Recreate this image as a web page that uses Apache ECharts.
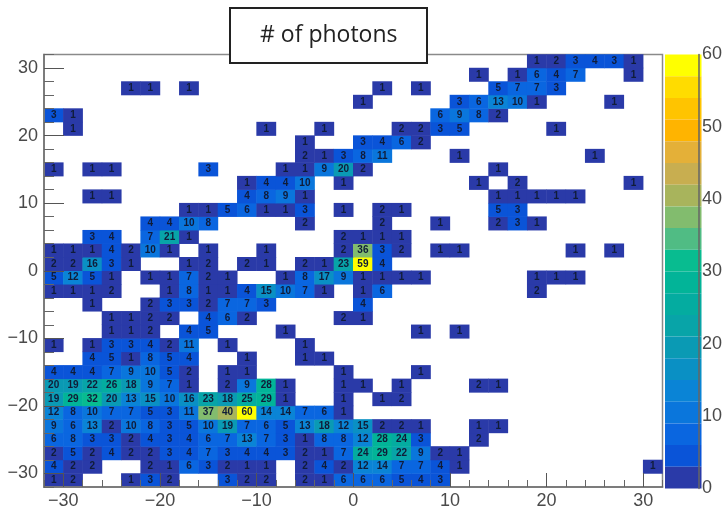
<!DOCTYPE html>
<html>
<head>
<meta charset="utf-8">
<style>html,body{margin:0;padding:0;background:#fff}#c{width:725px;height:510px}</style>
<script src="https://cdn.jsdelivr.net/npm/echarts@6/dist/echarts.min.js"></script>
</head>
<body>
<div id="c"></div>
<script>
const titleText = '# of photons';
const xBins = [-31,-29,-27,-25,-23,-21,-19,-17,-15,-13,-11,-9,-7,-5,-3,-1,1,3,5,7,9,11,13,15,17,19,21,23,25,27,29,31];
const axisLabelTicks = [-30,-20,-10,0,10,20,30];
const minorTicks = [-32,-28,-26,-24,-22,-18,-16,-14,-12,-8,-6,-4,-2,2,4,6,8,12,14,16,18,22,24,26,28,32];
// one colour per 3-count band, from 0-3 up to 57-60
const bandColors = ['#2a3aa8','#0a54d8','#0a66e0','#0a76dc','#0a84d6','#0a90c4','#0a9ab4','#08a4a8','#04aca0','#02b498','#08bc90','#50bc84','#82bc6e','#a8b45c','#c8ae50','#e4b038','#ffb400','#ffc400','#ffdc00','#ffff00'];
// rows of photon counts, named by bin centre in y; column order follows xBins; 0 = empty
const y31  = [0,0,0,0,0,0,0,0,0,0,0,0,0,0,0,0,0,0,0,0,0,0,0,0,0,1,2,3,4,3,1,0];
const y29  = [0,0,0,0,0,0,0,0,0,0,0,0,0,0,0,0,0,0,0,0,0,0,1,0,1,6,4,7,0,0,1,0];
const y27  = [0,0,0,0,1,1,0,1,0,0,0,0,0,0,0,0,0,1,0,1,0,0,0,5,7,7,3,0,0,0,0,0];
const y25  = [0,0,0,0,0,0,0,0,0,0,0,0,0,0,0,0,1,0,0,0,0,3,6,13,10,1,0,0,0,1,0,0];
const y23  = [3,1,0,0,0,0,0,0,0,0,0,0,0,0,0,0,0,0,0,0,6,9,8,2,0,0,0,0,0,0,0,0];
const y21  = [0,1,0,0,0,0,0,0,0,0,0,1,0,0,1,0,0,0,2,2,3,5,0,0,0,0,1,0,0,0,0,0];
const y19  = [0,0,0,0,0,0,0,0,0,0,0,0,0,1,0,0,3,4,6,2,0,0,0,0,0,0,0,0,0,0,0,0];
const y17  = [0,0,0,0,0,0,0,0,0,0,0,0,0,2,1,3,8,11,0,0,0,1,0,0,0,0,0,0,1,0,0,0];
const y15  = [1,0,1,1,0,0,0,0,3,0,0,0,1,1,9,20,2,0,0,0,0,0,0,1,0,0,0,0,0,0,0,0];
const y13  = [0,0,0,0,0,0,0,0,0,0,1,4,4,10,0,1,0,0,0,0,0,0,1,0,2,0,0,0,0,0,1,0];
const y11  = [0,0,1,1,0,0,0,0,0,0,4,8,9,1,0,0,0,0,0,0,0,0,0,1,1,1,1,1,0,0,0,0];
const y9   = [0,0,0,0,0,0,0,1,1,5,6,1,1,3,0,1,0,2,1,0,0,0,0,5,3,0,0,0,0,0,0,0];
const y7   = [0,0,0,0,0,4,4,10,8,0,0,0,0,2,0,0,0,2,0,0,1,0,0,2,3,1,0,0,0,0,0,0];
const y5   = [0,0,3,4,0,7,21,1,0,0,0,0,0,0,0,2,1,1,1,0,0,0,0,0,0,0,0,0,0,0,0,0];
const y3   = [1,1,1,4,2,10,1,0,1,0,0,1,0,0,0,2,36,3,2,0,1,1,0,0,0,0,0,1,0,1,0,0];
const y1   = [2,2,16,3,1,0,0,1,2,0,2,1,0,2,1,23,59,4,0,0,0,0,0,0,0,0,0,0,0,0,0,0];
const ym1  = [5,12,5,1,0,1,1,7,2,1,0,0,1,8,17,9,1,1,1,1,0,0,0,0,0,1,1,1,0,0,0,0];
const ym3  = [1,1,1,2,0,0,1,8,1,1,4,15,10,7,1,0,1,6,0,0,0,0,0,0,0,2,0,0,0,0,0,0];
const ym5  = [0,0,1,0,0,2,3,3,2,7,7,3,0,0,0,0,4,0,0,0,0,0,0,0,0,0,0,0,0,0,0,0];
const ym7  = [0,0,0,1,1,2,2,0,4,6,2,0,0,0,0,2,1,0,0,0,0,0,0,0,0,0,0,0,0,0,0,0];
const ym9  = [0,0,0,1,1,2,0,4,5,0,0,0,1,0,0,0,0,0,0,1,0,1,0,0,0,0,0,0,0,0,0,0];
const ym11 = [1,0,1,3,3,4,2,11,0,1,0,0,0,1,0,0,0,0,0,0,0,0,0,0,0,0,0,0,0,0,0,0];
const ym13 = [0,0,4,5,1,8,5,4,0,0,1,0,0,1,1,0,0,0,0,0,0,0,0,0,0,0,0,0,0,0,0,0];
const ym15 = [4,4,4,7,9,10,5,2,0,1,1,0,0,0,0,1,0,0,0,1,0,0,0,0,0,0,0,0,0,0,0,0];
const ym17 = [20,19,22,26,18,9,7,1,0,2,9,28,1,0,0,1,1,0,1,0,0,0,2,1,0,0,0,0,0,0,0,0];
const ym19 = [19,29,32,20,13,15,10,16,23,18,25,29,1,0,0,1,0,1,2,0,0,0,0,0,0,0,0,0,0,0,0,0];
const ym21 = [12,8,10,7,7,5,3,11,37,40,60,14,14,7,6,1,0,0,0,0,0,0,0,0,0,0,0,0,0,0,0,0];
const ym23 = [9,6,13,2,10,8,3,5,10,19,7,6,5,13,18,12,15,2,2,1,0,0,1,1,0,0,0,0,0,0,0,0];
const ym25 = [6,8,3,3,2,4,3,4,6,7,13,7,3,1,8,8,12,28,24,3,0,0,2,0,0,0,0,0,0,0,0,0];
const ym27 = [2,5,2,4,2,2,3,4,7,3,4,4,3,2,1,7,24,29,22,9,2,1,0,0,0,0,0,0,0,0,0,0];
const ym29 = [4,2,2,0,0,2,1,6,3,2,1,1,0,2,4,2,12,14,7,7,4,1,0,0,0,0,0,0,0,0,0,1];
const ym31 = [1,2,0,0,1,3,2,0,0,3,2,2,0,2,1,6,6,6,5,4,3,0,0,0,0,0,0,0,0,0,0,0];

const rows = [ym31,ym29,ym27,ym25,ym23,ym21,ym19,ym17,ym15,ym13,ym11,ym9,ym7,ym5,ym3,ym1,y1,y3,y5,y7,y9,y11,y13,y15,y17,y19,y21,y23,y25,y27,y29,y31];
const yBins = rows.map((_, i) => -31 + 2 * i);
const cells = [];
rows.forEach((r, j) => r.forEach((v, i) => { if (v > 0) cells.push([i, j, v]); }));
const pieces = bandColors.map((c, i) => i === 19
  ? { gte: 57, lte: 60, color: c }
  : { gte: i * 3, lt: (i + 1) * 3, color: c });

const fontFam = '"Liberation Sans", Arial, sans-serif';
const lab = { color: '#4a4a4a', fontSize: 18, fontFamily: fontFam };
const fmt = v => String(v).replace('-', '\u2212');
const line = { show: true, onZero: false, lineStyle: { color: '#7a7a7a', width: 1.5 } };

const chart = echarts.init(document.getElementById('c'));
chart.setOption({
  animation: false,
  backgroundColor: '#fff',
  title: {
    text: titleText, left: 230, top: 8, z: 20,
    backgroundColor: '#fff', borderColor: '#222', borderWidth: 2,
    padding: [16, 30],
    textStyle: { fontFamily: '"Open Sans", sans-serif', fontWeight: 'normal', fontSize: 23, color: '#222' }
  },
  grid: [
    { left: 44, top: 54.5, width: 618.5, height: 434, show: true, borderColor: '#8a8a8a', borderWidth: 1.5, backgroundColor: '#fff' },
    { left: 665, top: 54.5, width: 36.5, height: 434 }
  ],
  xAxis: [
    { type: 'category', gridIndex: 0, data: xBins, show: false },
    { type: 'value', gridIndex: 0, min: -32, max: 32, position: 'bottom', z: 6, splitLine: { show: false }, axisLine: line,
      axisTick: { inside: true, length: 14, customValues: axisLabelTicks, lineStyle: { color: '#555', width: 1 } },
      axisLabel: { ...lab, margin: 5, customValues: axisLabelTicks, formatter: fmt } },
    { type: 'value', gridIndex: 0, min: -32, max: 32, position: 'bottom', z: 6, splitLine: { show: false }, axisLine: line,
      axisTick: { inside: true, length: 7, customValues: minorTicks, lineStyle: { color: '#666', width: 1 } },
      axisLabel: { show: false } },
    { type: 'category', gridIndex: 1, data: [''], show: false }
  ],
  yAxis: [
    { type: 'category', gridIndex: 0, data: yBins, show: false },
    { type: 'value', gridIndex: 0, min: -32, max: 32, position: 'left', z: 6, splitLine: { show: false }, axisLine: line,
      axisTick: { inside: true, length: 20, customValues: axisLabelTicks, lineStyle: { color: '#555', width: 1 } },
      axisLabel: { ...lab, margin: 6, customValues: axisLabelTicks, formatter: fmt } },
    { type: 'value', gridIndex: 0, min: -32, max: 32, position: 'left', z: 6, splitLine: { show: false }, axisLine: line,
      axisTick: { inside: true, length: 10, customValues: minorTicks, lineStyle: { color: '#666', width: 1 } },
      axisLabel: { show: false } },
    { type: 'value', gridIndex: 1, min: 0, max: 60, interval: 10, position: 'right', z: 6, splitLine: { show: false },
      axisLine: { show: true, onZero: false, lineStyle: { color: '#666', width: 1.5 } },
      axisTick: { inside: true, length: 19, lineStyle: { color: '#444', width: 1 } },
      axisLabel: { ...lab, margin: 3 } }
  ],
  visualMap: {
    type: 'piecewise', seriesIndex: 0, dimension: 2, pieces,
    left: 665, top: 54.5, padding: 0, itemWidth: 36.5, itemHeight: 21.7, itemGap: 0,
    itemSymbol: 'rect', showLabel: false, selectedMode: false, hoverLink: false, orient: 'vertical', z: 4
  },
  series: [{
    type: 'heatmap', xAxisIndex: 0, yAxisIndex: 0, data: cells, z: 2,
    label: { show: true, fontSize: 10, fontWeight: 'bold', fontFamily: fontFam, color: '#101c38', formatter: p => p.value[2] },
    emphasis: { disabled: true }
  }]
});
</script>
</body>
</html>
